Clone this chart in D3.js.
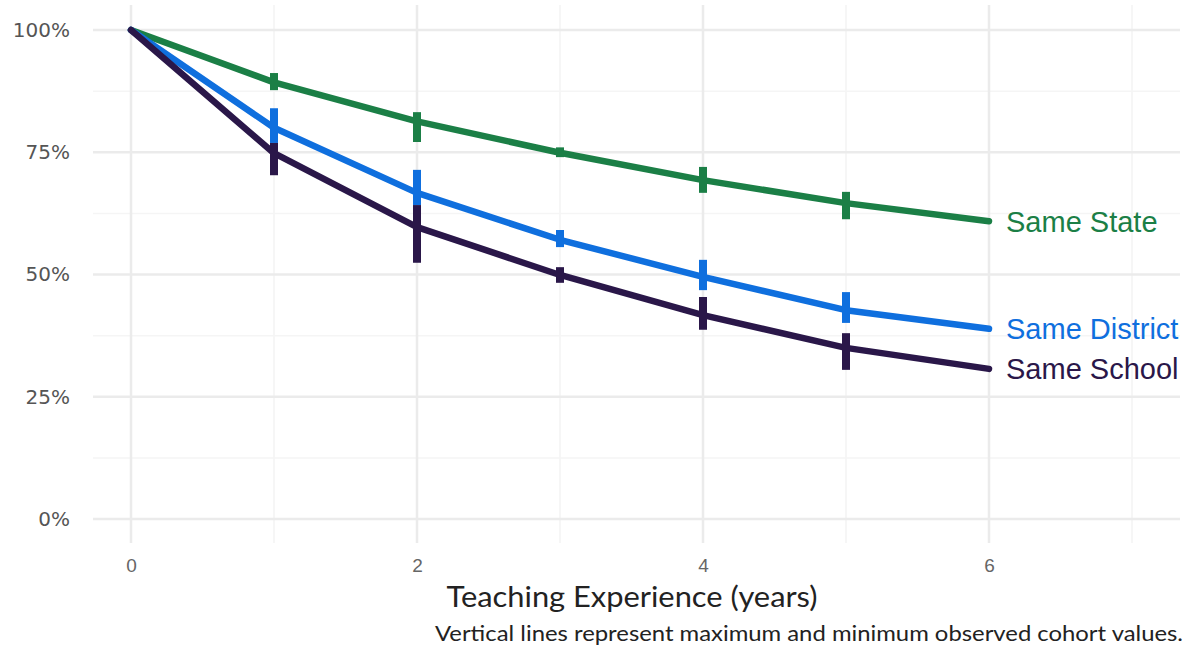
<!DOCTYPE html>
<html><head><meta charset="utf-8">
<script src="https://cdn.jsdelivr.net/npm/d3@7"></script>
<style>body{margin:0;background:#fff}svg{display:block}</style>
</head><body>
<svg id="c" width="1202" height="650"></svg>
<script>
const years = [0,1,2,3,4,5,6];
const seriesNames = ["Same State","Same District","Same School"];
const stateVals = [100, 89.3, 81.3, 74.9, 69.3, 64.6, 60.9];
const stateMin  = [null, 87.7, 77.1, 74.0, 66.7, 61.3, null];
const stateMax  = [null, 91.2, 83.2, 76.0, 72.0, 66.9, null];
const districtVals = [100, 80.0, 66.7, 57.1, 49.5, 42.7, 38.9];
const districtMin  = [null, 76.9, 64.2, 55.6, 46.8, 40.1, null];
const districtMax  = [null, 84.0, 71.4, 59.1, 53.0, 46.4, null];
const schoolVals = [100, 74.8, 59.7, 49.9, 41.7, 35.0, 30.7];
const schoolMin  = [null, 70.3, 52.4, 48.3, 38.7, 30.5, null];
const schoolMax  = [null, 76.9, 64.2, 51.5, 45.4, 38.0, null];
const yTicks = [0,25,50,75,100];
const xTicks = [0,2,4,6];
const colors = ["#1b7f46","#0f6fde","#2a1749"];

const svg = d3.select("#c");
const x = d3.scaleLinear().domain([0,6]).range([131,989]);
const y = d3.scaleLinear().domain([0,100]).range([519,30]);
const panel = {x0:93, x1:1180, y0:5, y1:543};

const grid = svg.append("g");
[1,3,5,7].forEach(v=>grid.append("line").attr("x1",x(v)).attr("x2",x(v)).attr("y1",panel.y0).attr("y2",panel.y1).attr("stroke","#f3f3f3").attr("stroke-width",1.5));
[12.5,37.5,62.5,87.5].forEach(v=>grid.append("line").attr("x1",panel.x0).attr("x2",panel.x1).attr("y1",y(v)).attr("y2",y(v)).attr("stroke","#f5f5f5").attr("stroke-width",1.5));
xTicks.forEach(v=>grid.append("line").attr("x1",x(v)).attr("x2",x(v)).attr("y1",panel.y0).attr("y2",panel.y1).attr("stroke","#ebebeb").attr("stroke-width",2.5));
yTicks.forEach(v=>grid.append("line").attr("x1",panel.x0).attr("x2",panel.x1).attr("y1",y(v)).attr("y2",y(v)).attr("stroke","#ebebeb").attr("stroke-width",2.5));

const yAxis = svg.append("g").attr("transform","translate(70,0)")
  .call(d3.axisLeft(y).tickValues(yTicks).tickSize(0).tickPadding(0).tickFormat(d=>d+"%"));
yAxis.select(".domain").remove();
yAxis.selectAll("text").attr("font-family","'DejaVu Sans', Verdana, sans-serif").attr("font-size","20px").attr("fill","#555");

const xAxis = svg.append("g").attr("transform","translate(0,558)")
  .call(d3.axisBottom(x).tickValues(xTicks).tickSize(0).tickPadding(0).tickFormat(d3.format("d")));
xAxis.select(".domain").remove();
xAxis.selectAll("text").attr("font-family","'Liberation Sans', Arial, sans-serif").attr("font-size","19px").attr("fill","#666");

const series = [
  {name:seriesNames[0], vals:stateVals, lo:stateMin, hi:stateMax, color:colors[0]},
  {name:seriesNames[1], vals:districtVals, lo:districtMin, hi:districtMax, color:colors[1]},
  {name:seriesNames[2], vals:schoolVals, lo:schoolMin, hi:schoolMax, color:colors[2]}
];
const line = d3.line().x((d,i)=>x(years[i])).y(d=>y(d)).curve(d3.curveLinear);

series.forEach(s=>{
  const g = svg.append("g");
  g.append("path").attr("d",line(s.vals)).attr("fill","none").attr("stroke",s.color).attr("stroke-width",6.5).attr("stroke-linejoin","round").attr("stroke-linecap","round");
  years.forEach((yr,i)=>{
    if(s.lo[i]==null) return;
    g.append("line").attr("x1",x(yr)).attr("x2",x(yr)).attr("y1",y(s.lo[i])).attr("y2",y(s.hi[i])).attr("stroke",s.color).attr("stroke-width",8);
  });
  const last = s.vals.length-1;
  g.append("text").attr("x",x(years[last])+17).attr("y",y(s.vals[last])).attr("dy","0.36em")
    .attr("font-family","'Liberation Sans', Arial, sans-serif").attr("font-size","29px").attr("fill",s.color).text(s.name);
});

svg.append("text").attr("x",632).attr("y",607).attr("text-anchor","middle")
  .attr("font-family","Lato, sans-serif").attr("font-size","29px").attr("fill","#222")
  .attr("textLength",371).attr("lengthAdjust","spacingAndGlyphs").text("Teaching Experience (years)");
svg.append("text").attr("x",1183).attr("y",641).attr("text-anchor","end")
  .attr("font-family","Lato, sans-serif").attr("font-size","22px").attr("fill","#222")
  .attr("textLength",748).attr("lengthAdjust","spacingAndGlyphs").text("Vertical lines represent maximum and minimum observed cohort values.");
</script>
</body></html>
